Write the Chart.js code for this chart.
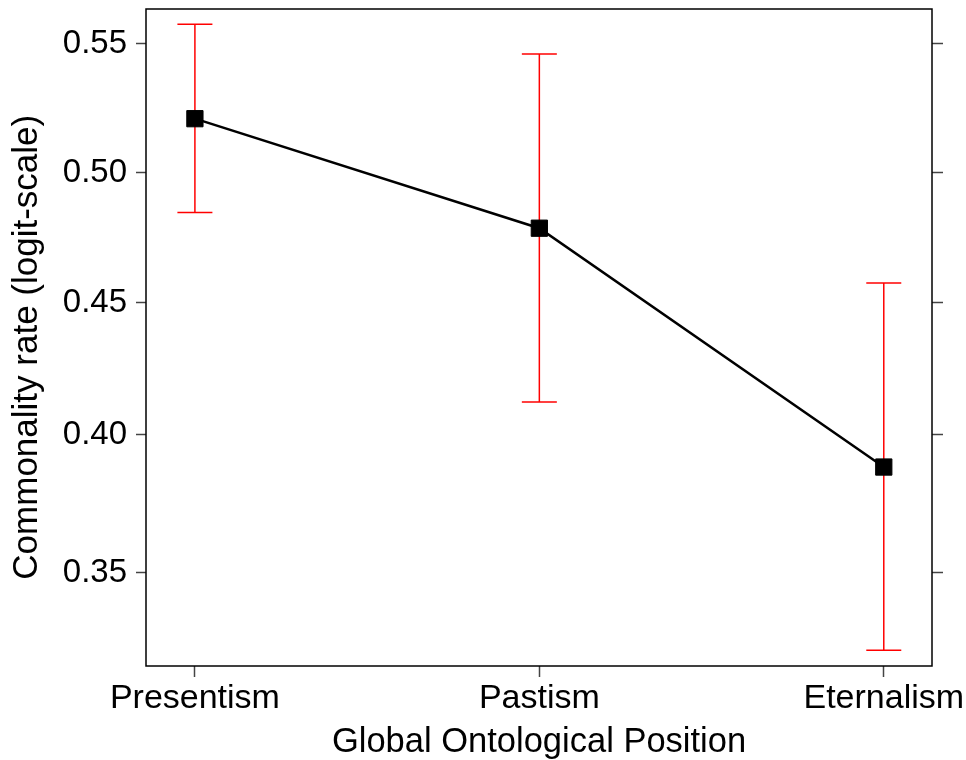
<!DOCTYPE html>
<html>
<head>
<meta charset="utf-8">
<script src="https://cdn.jsdelivr.net/npm/chart.js@4"></script>
<style>
  html, body { margin: 0; padding: 0; background: #fff; }
  canvas { display: block; }
</style>
</head>
<body>
<canvas id="chart" width="966" height="760"></canvas>
<script>
// values (probabilities, drawn on a logit scale)
const categories = ["Presentism", "Pastism", "Eternalism"];
const rates = [0.521, 0.4786, 0.388];
const lowerCI = [0.4847, 0.4122, 0.3231];
const upperCI = [0.5573, 0.5459, 0.4575];
const yTickLabels = [0.35, 0.40, 0.45, 0.50, 0.55];

const logit = p => Math.log(p / (1 - p));
const invLogit = v => 1 / (1 + Math.exp(-v));

const FONT = "'Liberation Sans', Arial, sans-serif";

// one small dataset per error bar, caps drawn as 'line' points
const errorSets = categories.map((c, i) => ({
  label: c + " CI",
  data: [{ x: i, y: logit(lowerCI[i]) }, { x: i, y: logit(upperCI[i]) }],
  showLine: true,
  borderColor: "#ff0000",
  borderWidth: 1.5,
  pointStyle: "line",
  pointRadius: 17.5,
  pointBorderColor: "#ff0000",
  pointBorderWidth: 1.5,
  order: 2
}));

const frame = {
  id: "frame",
  afterDatasetsDraw(chart) {
    const a = chart.chartArea;
    const ctx = chart.ctx;
    ctx.save();
    ctx.strokeStyle = "#000";
    ctx.lineWidth = 1.5;
    ctx.strokeRect(a.left, a.top, a.right - a.left, a.bottom - a.top);
    ctx.restore();
  }
};

// keep the scales from pushing the plot area in for their labels
function noPad(s) {
  s.paddingTop = 0;
  s.paddingBottom = 0;
  s.paddingLeft = 0;
  s.paddingRight = 0;
}

const ctx = document.getElementById("chart").getContext("2d");

new Chart(ctx, {
  type: "line",
  data: {
    datasets: [
      {
        label: "Commonality rate",
        data: rates.map((r, i) => ({ x: i, y: logit(r) })),
        borderColor: "#000",
        borderWidth: 2.5,
        pointStyle: "rect",
        pointRadius: 11.5,
        pointBackgroundColor: "#000",
        pointBorderColor: "#000",
        pointBorderWidth: 1,
        order: 1
      },
      ...errorSets
    ]
  },
  options: {
    responsive: false,
    animation: false,
    events: [],
    layout: { padding: { top: 9, left: 0, right: 0, bottom: 0 }, autoPadding: false },
    plugins: {
      legend: { display: false },
      tooltip: { enabled: false }
    },
    scales: {
      x: {
        type: "linear",
        position: "bottom",
        min: -0.142,
        max: 2.14,
        afterBuildTicks: s => { s.ticks = categories.map((c, i) => ({ value: i })); },
        afterFit: s => { s.height = 94; noPad(s); },
        ticks: {
          callback: v => categories[v],
          color: "#000",
          font: { family: FONT, size: 34 },
          padding: 1,
          maxRotation: 0
        },
        grid: {
          drawOnChartArea: false,
          drawTicks: true,
          tickLength: 11,
          tickColor: "#444",
          tickWidth: 1.5
        },
        border: { display: false },
        title: {
          display: true,
          text: "Global Ontological Position",
          color: "#000",
          font: { family: FONT, size: 34.5, lineHeight: 1 },
          padding: 0
        }
      },
      y: {
        type: "linear",
        position: "left",
        min: -0.764,
        max: 0.254,
        afterBuildTicks: s => { s.ticks = yTickLabels.map(t => ({ value: logit(t) })); },
        afterFit: s => { s.width = 146; noPad(s); },
        ticks: {
          callback: v => invLogit(v).toFixed(2),
          color: "#000",
          font: { family: FONT, size: 33 },
          padding: 9
        },
        grid: {
          drawOnChartArea: false,
          drawTicks: true,
          tickLength: 10,
          tickColor: "#444",
          tickWidth: 1.5
        },
        border: { display: false },
        title: {
          display: true,
          text: "Commonality rate (logit-scale)  ",
          color: "#000",
          font: { family: FONT, size: 35, lineHeight: 1 },
          padding: { top: 10, bottom: 0 }
        }
      },
      yRight: {
        type: "linear",
        position: "right",
        min: -0.764,
        max: 0.254,
        afterBuildTicks: s => { s.ticks = yTickLabels.map(t => ({ value: logit(t) })); },
        afterFit: s => { s.width = 34; noPad(s); },
        ticks: { display: false },
        grid: {
          drawOnChartArea: false,
          drawTicks: true,
          tickLength: 11,
          tickColor: "#444",
          tickWidth: 1.5
        },
        border: { display: false }
      }
    }
  },
  plugins: [frame]
});
</script>
</body>
</html>
